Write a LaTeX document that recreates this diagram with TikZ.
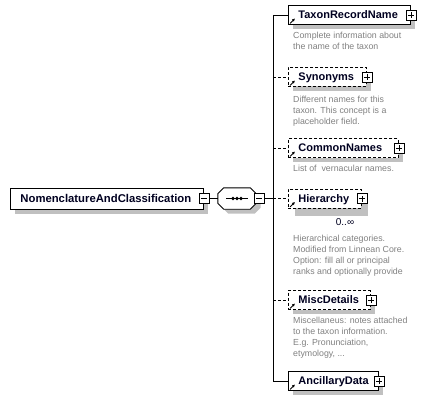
\documentclass[tikz,border=0pt]{standalone}
\usepackage{fontspec}
\setmainfont{Liberation Sans}
\usetikzlibrary{arrows.meta}
\definecolor{shadowcol}{HTML}{C0C0C0}
\definecolor{desccol}{HTML}{808080}
\definecolor{namecol}{HTML}{000020}
\begin{document}
\begin{tikzpicture}[x=1pt,y=-1pt,
  shadowed/.style={preaction={fill=shadowcol, transform canvas={xshift=4.5pt,yshift=-4.5pt}}},
  bigshadowed/.style={preaction={fill=shadowcol, transform canvas={xshift=7pt,yshift=-8pt}}},
  elem/.style={draw, fill=white, line width=0.9pt, font=\fontsize{11}{13}\selectfont\bfseries, text=namecol, minimum height=19pt, text height=8pt, text depth=1pt, inner xsep=10pt, inner ysep=0pt, align=left, anchor=west},
  optelem/.style={elem, dash pattern=on 3pt off 2pt},
  pm/.style={draw, solid, fill=white, line width=0.8pt, minimum size=10pt, inner sep=0pt},
  plusbox/.style={pm, path picture={\draw[line width=0.8pt] ([xshift=-3pt]path picture bounding box.center) -- ([xshift=3pt]path picture bounding box.center) ([yshift=-3pt]path picture bounding box.center) -- ([yshift=3pt]path picture bounding box.center);}},
  minusbox/.style={pm, path picture={\draw[line width=0.8pt] ([xshift=-3pt]path picture bounding box.center) -- ([xshift=3pt]path picture bounding box.center);}},
  conn/.style={line width=0.9pt},
  optconn/.style={conn, dash pattern=on 3pt off 2pt},
  desc/.style={anchor=north west, inner sep=0pt, text=desccol, font=\fontsize{8.8}{11}\selectfont, align=left},
  refarrow/.style={-{Latex[length=3pt,width=3pt]}, line width=0.8pt}
]
\useasboundingbox (0,0) rectangle (425,401);

% root element
\node[elem, shadowed, minimum height=21pt, text width=173pt, font=\fontsize{11.3}{13}\selectfont\bfseries] (root) at (10,198.5) {NomenclatureAndClassification};
\node[minusbox] (rootm) at (root.east) {};

% sequence compositor
\node[inner sep=0pt, minimum width=38pt, minimum height=21pt] (seq) at (237,198.5) {};
\draw[conn, fill=white, shadowed]
  ([xshift=6pt]seq.north west) -- ([xshift=-6pt]seq.north east)
  -- ([yshift=-6pt]seq.north east) -- ([yshift=6pt]seq.south east)
  -- ([xshift=-6pt]seq.south east) -- ([xshift=6pt]seq.south west)
  -- ([yshift=6pt]seq.south west) -- ([yshift=-6pt]seq.north west) -- cycle;
\draw[conn] ([xshift=-11pt]seq.center) -- ([xshift=11pt]seq.center);
\fill ([xshift=-4pt]seq.center) circle[radius=1.8pt];
\fill (seq.center) circle[radius=1.8pt];
\fill ([xshift=4pt]seq.center) circle[radius=1.8pt];
\node[minusbox] (seqm) at (259,198.5) {};
\draw[conn] (rootm.east) -- (seq.west);
\coordinate (bus) at (273,198.5);
\draw[conn] (seqm.east) -- (bus);

% children
\node[elem, shadowed, text width=102pt] (trn) at (288,15) {TaxonRecordName};
\node[plusbox] (trnp) at (trn.east) {};
\node[optelem, shadowed, text width=58pt] (syn) at (288,77) {Synonyms};
\node[plusbox] (synp) at (syn.east) {};
\node[optelem, shadowed, text width=90pt] (cn) at (288,148) {CommonNames};
\node[plusbox] (cnp) at (cn.east) {};
\node[optelem, bigshadowed, text width=53pt] (hier) at (288,198.5) {Hierarchy};
\node[plusbox] (hierp) at (hier.east) {};
\node[optelem, shadowed, text width=62pt] (misc) at (288,300) {MiscDetails};
\node[plusbox] (miscp) at (misc.east) {};
\node[elem, shadowed, text width=70pt] (anc) at (288,381) {AncillaryData};
\node[plusbox] (ancp) at (anc.east) {};

% reference arrows
\foreach \n in {trn,syn,cn,hier,misc,anc}
  \draw[refarrow] ([shift={(2pt,1.5pt)}]\n.south west) -- ++(5pt,5pt);

% connectors
\draw[conn] (bus |- trn.west) -- (bus |- anc.west);
\draw[conn] (bus |- trn.west) -- (trn.west);
\draw[optconn] (bus |- syn.west) -- (syn.west);
\draw[optconn] (bus |- cn.west) -- (cn.west);
\draw[optconn] (bus |- hier.west) -- (hier.west);
\draw[optconn] (bus |- misc.west) -- (misc.west);
\draw[conn] (bus |- anc.west) -- (anc.west);

% multiplicity
\node[font=\fontsize{10}{12}\selectfont, text=namecol, inner sep=0pt] (hiermult) at (345,222) {0..∞};

% descriptions
\node[desc] (trnd) at (293,31.1) {\strut Complete information about\\the name of the taxon};
\node[desc] (synd) at (293,94.6) {\strut Different names for this\\taxon. This concept is a\\placeholder field.};
\node[desc] (cnd) at (293,163.1) {\strut List of~ vernacular names.};
\node[desc] (hierd) at (293,233.1) {\strut Hierarchical categories.\\Modified from Linnean Core.\\Option: fill all or principal\\ranks and optionally provide};
\node[desc] (miscd) at (293,316) {\strut Miscellaneus: notes attached\\to the taxon information.\\E.g. Pronunciation,\\etymology, ...};
\end{tikzpicture}
\end{document}
